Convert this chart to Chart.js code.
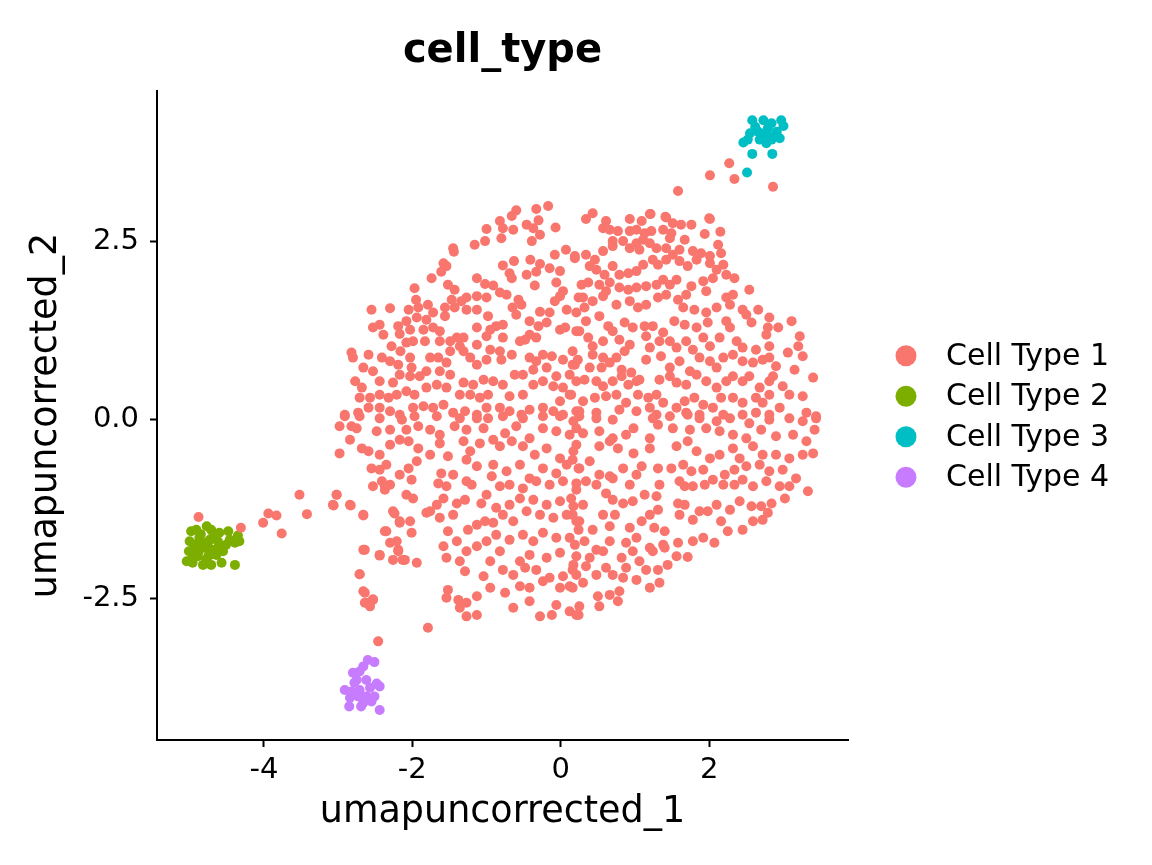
<!DOCTYPE html>
<html>
<head>
<meta charset="utf-8">
<script src="https://cdn.jsdelivr.net/npm/chart.js@4.4.1/dist/chart.umd.min.js"></script>
<style>
  html, body { margin: 0; padding: 0; background: #fff; }
  #wrap { width: 1152px; height: 865px; position: relative; }
</style>
</head>
<body>
<div id="wrap"><canvas id="myChart"></canvas></div>
<script>
// labels + colours (ggplot default hue palette)
const groupLabels = ['Cell Type 1', 'Cell Type 2', 'Cell Type 3', 'Cell Type 4'];
const groupColors = ['#F8766D', '#7CAE00', '#00BFC4', '#C77CFF'];

const xTitle = 'umapuncorrected_1';
const yTitle = 'umapuncorrected_2';
const plotTitle = 'cell_type';
const xRange = [-5.44, 3.87];
const yRange = [-4.48, 4.6];

// Cell Type 1
const type1UpperLeft = [
[-0.17,2.99],[-0.33,2.95],[-0.60,2.93],[-0.66,2.85],[-0.82,2.78],[-0.78,2.68],[-0.64,2.66],[-0.46,2.73],[-0.37,2.68],[-0.30,2.79],[-0.28,2.59],[-0.39,2.50],[-0.80,2.54],[-1.00,2.67],[-1.02,2.50],[-1.16,2.45],[-1.45,2.40],[-1.44,2.35],[-0.07,2.69],
[0.07,2.38],[-0.08,2.31],[0.19,2.26],[-0.41,2.24],[-0.28,2.18],[-0.63,2.22],[-0.78,2.16],[-0.69,2.05],[-0.66,1.98],[-0.46,2.03],[-0.33,2.07],[-0.35,1.88],[-0.15,2.12],[-0.01,2.08],[-0.06,1.92],[0.03,1.80],[-0.01,1.73],[-0.08,1.66],[0.08,1.54],[0.24,1.71],
[-1.58,2.19],[-1.54,2.15],[-1.61,2.07],[-1.74,1.98],[-1.52,1.89],[-1.43,1.82],[-1.13,1.98],[-1.02,1.90],[-0.91,1.88],[-0.82,1.78],[-0.73,1.75],[-0.57,1.68],[-0.65,1.57],[-0.60,1.47],[-0.53,1.61],[-1.97,1.84],[-1.95,1.68],
[-1.47,1.68],[-1.34,1.66],[-1.27,1.71],[-1.13,1.73],[-1.00,1.71],[-1.27,1.54],[-1.13,1.54],[-0.98,1.45],[-1.43,1.57],[-1.56,1.57],[-1.56,1.45],
[-2.55,1.54],[-2.30,1.56],[-2.05,1.54],[-1.92,1.57],[-1.79,1.61],[-1.72,1.50],[-1.81,1.40],[-1.94,1.43],[-2.08,1.38],[-2.19,1.31],[-2.44,1.33],[-2.53,1.29],[-2.39,1.19],[-2.17,1.20],[-2.03,1.26],[-1.85,1.26],[-1.72,1.29],[-1.63,1.24],[-1.63,1.10],[-1.83,1.10],[-1.99,1.10],[-2.08,1.08],
[-0.28,1.51],[-0.15,1.50],[-0.42,1.38],[-0.30,1.31],[-0.19,1.36],[-0.01,1.26],[0.06,1.29],[0.21,1.24],[-0.42,1.19],[-0.33,1.15],[-0.48,1.12],[-0.55,1.10],[-0.78,1.15],[-0.95,1.26],[-0.87,1.31],[-0.78,1.33],[-1.13,1.29],[-1.00,1.17],[-1.13,1.05],[-1.31,1.15],[-1.40,1.15],[-1.49,1.10],[-1.36,1.03],
[-2.82,0.94],[-2.80,0.87],[-2.59,0.91],[-2.66,0.73],[-2.53,0.68],[-2.41,0.87],[-2.28,1.03],[-2.30,0.82],[-2.16,0.96],[-2.03,0.87],[-2.19,0.77],[-2.01,0.73],[-1.76,0.87],[-1.65,0.87],[-1.49,0.96],[-1.54,0.80],[-1.49,0.63],[-1.63,0.68],[-1.81,0.68],[-1.90,0.61],[-2.03,0.61],[-2.17,0.63],[-2.26,0.52],[-2.44,0.54],
[-1.31,0.96],[-1.22,0.87],[-1.13,0.77],[-1.00,0.84],[-0.95,0.98],[-0.82,0.96],[-0.80,0.84],[-0.66,0.91],[-0.62,0.63],[-0.51,0.63],[-0.42,0.87],[-0.33,0.82],[-0.24,0.91],[-0.12,0.89],[0.03,0.84],[0.19,0.77],[-0.37,0.70],[-0.19,0.73],[-0.06,0.61],[0.12,0.63],[0.21,0.54],
[-2.77,0.54],[-2.68,0.45],[-2.71,0.31],[-2.57,0.31],[-2.44,0.35],[-2.32,0.31],[-2.21,0.35],[-2.08,0.40],[-1.97,0.35],[-1.81,0.45],[-1.67,0.49],[-1.54,0.45],[-1.31,0.52],[-1.18,0.49],[-1.04,0.56],[-0.91,0.54],[-0.78,0.49],[-0.98,0.35],[-1.09,0.31],[-1.22,0.35],[-1.36,0.35],[-0.69,0.33],[-0.51,0.35],[-0.37,0.49],[-0.24,0.54],[-0.10,0.47],[0.03,0.45],[0.12,0.35],[-0.01,0.26],
[-2.91,0.07],[-2.73,0.10],[-2.59,0.17],[-2.44,0.17],[-2.30,0.12],[-2.17,0.07],[-1.99,0.17],[-1.85,0.19],[-1.72,0.17],[-1.58,0.21],[-1.45,0.10],[-1.29,0.12],[-1.13,0.07],[-1.00,0.17],[-0.82,0.17],[-0.69,0.12],[-0.53,0.07],[-0.42,0.14],[-0.24,0.17],[-0.10,0.12],[0.03,0.07],[0.21,0.12]
];

const type1UpperRight = [
[1.58,3.20],[0.43,2.89],[0.34,2.81],[0.61,2.78],[0.57,2.68],[0.93,2.81],[1.09,2.78],[1.20,2.88],[1.42,2.83],[1.51,2.75],[1.62,2.73],[1.76,2.73],[2.01,2.81],[1.94,2.60],[2.15,2.63],[1.67,2.52],
[0.66,2.66],[0.77,2.64],[0.93,2.64],[1.02,2.66],[1.13,2.61],[1.22,2.64],[1.38,2.66],[1.49,2.61],[1.47,2.54],[0.70,2.50],[0.84,2.50],[1.02,2.47],[1.11,2.52],[1.20,2.47],[0.93,2.40],[1.06,2.38],[1.29,2.40],[1.42,2.40],[1.60,2.38],[1.78,2.36],[1.89,2.33],[2.01,2.29],[2.12,2.45],[2.16,2.33],
[0.19,2.29],[0.34,2.31],[0.46,2.24],[0.57,2.36],[0.70,2.43],[0.39,2.15],[0.48,2.10],[0.59,2.03],[0.70,2.15],[0.79,2.03],[0.91,2.05],[1.02,2.08],[1.11,2.17],[1.24,2.24],[1.31,2.17],[1.42,2.24],[1.51,2.31],[1.60,2.22],[1.71,2.15],[1.83,2.24],[2.01,2.19],[2.19,2.17],[2.23,2.03],[2.10,2.10],[2.34,1.98],
[0.28,1.89],[0.37,1.92],[0.52,1.89],[0.61,1.80],[0.66,1.92],[0.79,1.85],[0.91,1.82],[1.02,1.85],[1.15,1.87],[1.29,1.89],[1.38,1.96],[1.47,1.89],[1.56,1.96],[1.76,1.87],[1.92,1.94],[1.96,1.80],[2.05,1.98],[2.54,1.82],
[0.30,1.71],[0.32,1.57],[0.43,1.66],[0.57,1.73],[0.75,1.61],[0.93,1.66],[1.04,1.57],[1.15,1.61],[1.31,1.71],[1.42,1.75],[1.58,1.68],[1.69,1.75],[1.65,1.57],[1.80,1.54],[1.96,1.50],[2.10,1.57],[2.23,1.71],[2.32,1.75],[2.28,1.61],[2.45,1.54],[2.66,1.54],[2.50,1.47],
[0.21,1.50],[0.34,1.38],[0.52,1.45],[0.64,1.31],[0.70,1.24],[0.86,1.36],[0.97,1.29],[1.13,1.31],[1.24,1.31],[1.38,1.22],[1.53,1.38],[1.67,1.33],[1.83,1.29],[1.98,1.36],[2.23,1.38],[2.28,1.29],[2.57,1.36],[2.81,1.43],[2.79,1.29],[2.93,1.29],[3.11,1.38],[3.22,1.17],
[0.25,1.24],[0.37,1.15],[0.43,1.03],[0.57,1.10],[0.79,1.12],[0.93,1.05],[0.86,0.96],[0.75,0.87],[0.57,0.87],[0.43,0.91],[1.15,1.17],[1.20,1.01],[1.33,1.10],[1.47,1.10],[1.56,1.01],[1.69,1.10],[1.78,0.98],[1.92,1.15],[2.01,1.03],[2.14,1.15],[2.37,1.10],[2.45,1.01],[2.63,0.98],[2.81,1.03],[2.77,1.19],[3.06,0.94],[3.20,1.03],[3.26,0.89],
[0.16,0.96],[0.16,0.77],[0.23,0.84],[0.39,0.73],[0.55,0.73],[0.66,0.80],[0.82,0.70],[0.95,0.66],[1.06,0.56],[1.15,0.84],[1.35,0.89],[1.47,0.73],[1.60,0.82],[1.74,0.68],[1.87,0.87],[2.01,0.82],[2.10,0.73],[2.19,0.87],[2.32,0.91],[2.45,0.82],[2.59,0.80],[2.72,0.84],[2.81,0.87],[2.90,0.75],[3.15,0.70],[3.40,0.59],
[0.32,0.56],[0.48,0.54],[0.57,0.47],[0.70,0.54],[0.82,0.61],[0.91,0.49],[1.02,0.54],[1.33,0.56],[1.47,0.61],[1.56,0.52],[1.69,0.49],[1.83,0.63],[1.96,0.54],[2.10,0.45],[2.23,0.54],[2.32,0.61],[2.45,0.54],[2.54,0.61],[2.68,0.45],[2.81,0.54],[2.99,0.47],[3.08,0.35],[3.26,0.33],[2.86,0.61],
[0.14,0.35],[0.30,0.26],[0.46,0.31],[0.61,0.33],[0.75,0.35],[0.88,0.24],[1.04,0.35],[1.18,0.31],[1.29,0.35],[1.20,0.17],[1.38,0.24],[1.56,0.17],[1.67,0.26],[1.80,0.31],[1.92,0.21],[2.05,0.17],[2.16,0.31],[2.32,0.31],[2.45,0.24],[2.63,0.31],[2.72,0.24],[2.81,0.35],[2.95,0.17],[3.31,0.10],[3.44,0.05],
[0.25,0.12],[0.48,0.10],[0.79,0.14],[1.02,0.12],[1.29,0.07],[1.69,0.10],[1.87,0.07],[2.19,0.07],[2.45,0.07],[2.63,0.10],[2.81,0.07]
];

const type1LowerLeft = [
[-2.91,0.05],[-2.71,0.05],[-2.44,0.02],[-2.14,0.00],[-1.97,0.05],[-1.67,0.05],[-1.36,0.02],[-1.13,0.02],[-0.98,0.02],[-0.78,0.05],[-0.51,0.02],[-0.24,0.05],[-0.01,0.05],[0.17,-0.02],
[-2.98,-0.09],[-2.82,-0.09],[-2.75,-0.12],[-2.48,-0.16],[-2.30,-0.14],[-2.08,-0.14],[-1.92,-0.09],[-1.76,-0.14],[-1.63,-0.21],[-1.43,-0.09],[-1.27,-0.14],[-1.04,-0.12],[-0.91,-0.28],[-0.75,-0.19],[-0.60,-0.09],[-0.42,-0.26],[-0.24,-0.12],[-0.06,-0.16],[0.12,-0.21],
[-2.84,-0.28],[-2.68,-0.40],[-2.59,-0.44],[-2.44,-0.49],[-2.30,-0.35],[-2.17,-0.28],[-2.05,-0.30],[-1.92,-0.40],[-1.76,-0.49],[-1.63,-0.33],[-1.52,-0.51],[-1.31,-0.30],[-1.22,-0.44],[-1.09,-0.33],[-0.82,-0.37],[-0.66,-0.30],[-0.51,-0.37],[-0.35,-0.49],[-0.19,-0.40],[-0.01,-0.54],[0.17,-0.44],
[-2.98,-0.47],[-2.55,-0.68],[-2.44,-0.70],[-2.35,-0.63],[-2.17,-0.77],[-2.05,-0.68],[-1.94,-0.58],[-1.61,-0.75],[-1.45,-0.77],[-1.27,-0.56],[-1.13,-0.65],[-0.91,-0.63],[-0.73,-0.72],[-0.55,-0.63],[-0.42,-0.82],[-0.24,-0.68],[-0.06,-0.75],[0.08,-0.63],[0.24,-0.68],
[-2.53,-0.93],[-2.41,-0.86],[-2.30,-0.91],[-2.01,-0.84],[-1.65,-0.89],[-1.54,-0.93],[-1.27,-0.86],[-1.20,-0.91],[-0.93,-0.79],[-0.82,-0.93],[-0.69,-0.91],[-0.51,-0.96],[-0.33,-0.86],[-0.15,-0.91],[0.03,-0.86],[0.21,-0.98],
[-3.02,-1.05],[-3.07,-1.19],[-2.84,-1.19],[-2.66,-1.33],[-2.37,-0.98],[-2.08,-1.05],[-1.99,-1.10],[-1.81,-1.30],[-1.67,-1.19],[-1.58,-1.10],[-1.40,-1.17],[-1.29,-1.12],[-1.07,-1.17],[-1.00,-1.05],[-0.87,-1.23],[-0.69,-1.19],[-0.55,-1.10],[-0.37,-1.12],[-0.19,-1.19],[-0.01,-1.14],[0.17,-1.21],
[-2.26,-1.28],[-2.17,-1.42],[-2.03,-1.42],[-2.37,-1.56],[-2.01,-1.58],[-1.76,-1.28],[-1.63,-1.37],[-1.52,-1.56],[-1.45,-1.33],[-1.25,-1.54],[-1.13,-1.47],[-1.02,-1.42],[-0.91,-1.44],[-0.78,-1.33],[-0.64,-1.42],[-0.46,-1.28],[-0.28,-1.33],[-0.10,-1.37],[0.08,-1.33],[0.21,-1.42],
[-2.66,-1.82],[-2.44,-1.89],[-2.30,-1.72],[-2.21,-1.70],[-2.19,-1.82],[-2.26,-1.96],[-2.10,-1.96],[-1.94,-2.00],[-1.58,-1.77],[-1.40,-1.70],[-1.54,-1.93],[-1.36,-1.98],[-1.27,-1.84],[-1.13,-1.77],[-1.00,-1.70],[-0.87,-1.61],[-0.82,-1.84],[-0.69,-1.68],[-0.51,-1.61],[-0.37,-1.70],[-0.24,-1.58],[-0.06,-1.65],[0.12,-1.65],[0.24,-1.54],
[-2.71,-2.16],[-1.52,-2.38],[-1.29,-2.12],[-1.04,-2.19],[-0.95,-1.98],[-0.78,-2.10],[-0.64,-2.17],[-0.48,-2.07],[-0.33,-2.10],[-0.15,-2.21],[0.03,-2.19],[0.17,-2.03],[-0.42,-1.89],[-0.19,-1.93],[-0.01,-1.86],[-0.55,-1.98],
[-2.66,-2.40],[-2.62,-2.56],[-2.53,-2.52],[-1.54,-2.49],[-1.38,-2.52],[-1.27,-2.56],[-1.13,-2.47],[-0.95,-2.35],[-0.75,-2.42],[-0.55,-2.33],[-0.42,-2.35],[-0.24,-2.26],[-0.01,-2.35],[0.12,-2.33],[0.21,-2.17],
[-1.36,-2.63],[-1.27,-2.75],[-1.13,-2.73],[-0.64,-2.63],[-0.42,-2.54],[-0.28,-2.75],[-0.12,-2.73],[-0.06,-2.59],[0.12,-2.68],[0.24,-2.73],[-1.79,-2.91]
];

const type1LowerRight = [
[0.25,0.05],[0.48,0.02],[0.70,0.00],[0.98,-0.12],[1.24,0.02],[1.47,0.05],[1.71,0.07],[1.87,0.02],[2.10,-0.02],[2.28,0.02],[2.54,-0.05],[2.81,0.00],[3.08,0.02],[3.26,-0.02],[3.44,0.02],
[0.21,-0.12],[0.30,-0.19],[0.52,-0.16],[0.70,-0.26],[0.88,-0.21],[1.20,-0.26],[1.31,-0.07],[1.51,-0.12],[1.74,-0.14],[1.96,-0.12],[2.14,-0.16],[2.32,-0.21],[2.50,-0.26],[2.70,-0.14],[2.90,-0.23],[3.13,-0.21],[3.31,-0.30],[3.42,-0.14],
[0.21,-0.35],[0.52,-0.37],[0.66,-0.30],[0.77,-0.40],[0.98,-0.47],[1.20,-0.40],[1.56,-0.37],[1.71,-0.30],[1.83,-0.44],[2.01,-0.54],[2.14,-0.49],[2.32,-0.40],[2.41,-0.54],[2.59,-0.37],[2.72,-0.49],[2.90,-0.49],[3.08,-0.54],[3.26,-0.49],[3.40,-0.47],
[0.16,-0.56],[0.25,-0.68],[0.39,-0.58],[0.52,-0.77],[0.66,-0.79],[0.84,-0.68],[1.09,-0.65],[1.31,-0.68],[1.49,-0.68],[1.65,-0.63],[1.76,-0.72],[1.92,-0.70],[2.05,-0.84],[2.21,-0.77],[2.34,-0.70],[2.50,-0.65],[2.68,-0.63],[2.81,-0.72],[2.99,-0.70],[3.17,-0.82],[3.33,-1.00],
[0.21,-0.89],[0.34,-0.86],[0.48,-0.91],[0.70,-0.82],[0.93,-0.91],[1.02,-0.77],[1.33,-0.91],[1.60,-0.86],[1.67,-0.93],[1.78,-0.93],[1.94,-0.91],[2.19,-0.91],[2.34,-0.91],[2.45,-0.84],[2.59,-0.93],[2.77,-0.86],[2.95,-0.93],[3.08,-0.93],
[0.14,-1.10],[0.30,-1.19],[0.61,-1.03],[0.70,-1.12],[0.84,-1.17],[0.97,-1.14],[1.13,-1.05],[1.29,-1.07],[1.58,-1.17],[1.67,-1.19],[1.87,-1.28],[1.98,-1.28],[2.10,-1.19],[2.28,-1.26],[2.41,-1.14],[2.57,-1.21],[2.70,-1.21],[2.84,-1.17],[3.02,-1.10],
[0.16,-1.33],[0.25,-1.42],[0.43,-1.54],[0.57,-1.33],[0.66,-1.49],[0.73,-1.33],[0.93,-1.51],[1.09,-1.42],[1.20,-1.33],[1.31,-1.26],[1.26,-1.51],[1.40,-1.56],[1.60,-1.33],[1.78,-1.40],[2.16,-1.42],[2.25,-1.56],[2.45,-1.54],[2.59,-1.42],[2.72,-1.40],[2.79,-1.30],
[0.19,-1.75],[0.32,-1.70],[0.48,-1.82],[0.66,-1.70],[0.88,-1.72],[1.02,-1.65],[1.20,-1.79],[1.38,-1.75],[1.58,-1.72],[1.78,-1.70],[1.92,-1.65],[2.07,-1.72],
[0.21,-1.91],[0.39,-1.93],[0.57,-1.84],[0.82,-1.93],[0.97,-1.84],[1.06,-1.98],[1.24,-1.84],[1.40,-1.79],[1.56,-1.91],[1.71,-1.92],[0.88,-2.07],[0.70,-2.17],
[0.16,-2.10],[0.34,-2.05],[0.48,-2.17],[0.61,-2.07],[0.84,-2.21],[1.02,-2.24],[1.15,-2.10],[1.31,-2.10],[1.44,-2.03],[1.20,-2.35],[1.33,-2.28],
[0.16,-2.35],[0.30,-2.28],[0.50,-2.47],[0.66,-2.45],[0.79,-2.40],[0.77,-2.54],[0.52,-2.61],[0.25,-2.61],[0.21,-2.73]
];

// stray Cell Type 1 cells outside the main blob
const type1Strays = [
[-3.52,-1.05],[-3.42,-1.32],[-3.94,-1.31],[-3.83,-1.34],[-4.01,-1.44],[-3.76,-1.59],[-4.31,-1.51],[-4.88,-1.36],
[-3.02,-1.05],[-3.06,-1.20],[-2.83,-1.20],[-2.66,-1.34],[-2.64,-1.82],[-2.44,-1.90],[-2.71,-2.16],[-2.64,-2.42],[-2.53,-2.51],[-2.64,-2.56],[-2.57,-2.61],[-2.46,-3.10],
[-2.37,-0.93],[-2.24,-1.31],[-2.17,-1.44],[-2.35,-1.56],[-2.19,-1.84],[-2.13,-1.96],
[2.27,3.59],[2.01,3.42],[2.34,3.37],[2.86,3.26],[1.21,2.88],[1.41,2.84],[2.00,2.82]
];

const type2Points = [
[-4.98,-1.56],[-4.91,-1.54],[-4.77,-1.49],[-4.71,-1.54],[-4.60,-1.58],[-4.48,-1.56],[-4.35,-1.62],[-4.33,-1.70],
[-5.00,-1.70],[-4.87,-1.65],[-4.73,-1.68],[-4.62,-1.70],[-4.51,-1.75],[-4.39,-1.72],[-5.01,-1.84],[-4.91,-1.82],
[-4.80,-1.79],[-4.66,-1.82],[-4.55,-1.84],[-5.04,-1.98],[-4.96,-2.00],[-4.82,-2.03],[-4.71,-2.03],[-4.57,-2.00],
[-4.39,-2.03],[-4.89,-1.91],[-4.75,-1.91],[-4.64,-1.89],[-4.96,-1.91],[-4.46,-1.68],[-4.82,-1.72],
[-4.85,-1.60],[-4.68,-1.62],[-4.94,-1.75],[-4.70,-1.88],[-4.78,-1.96],[-4.60,-1.76],[-4.88,-1.85],[-4.73,-1.80]
];

const type3Points = [
[2.58,4.19],[2.73,4.19],[2.84,4.15],[2.97,4.19],[3.00,4.11],[2.55,4.01],[2.66,4.03],[2.75,4.01],[2.82,3.96],
[2.91,4.03],[2.95,3.94],[2.46,3.88],[2.52,3.92],[2.68,3.92],[2.77,3.87],[2.84,3.92],[2.58,3.72],[2.85,3.72],
[2.51,3.46],[2.62,4.10],[2.79,4.08],[2.70,3.98]
];

const type4Points = [
[-2.60,-3.36],[-2.51,-3.39],[-2.66,-3.45],[-2.80,-3.54],[-2.71,-3.52],[-2.62,-3.64],[-2.75,-3.64],[-2.48,-3.69],
[-2.44,-3.73],[-2.91,-3.78],[-2.82,-3.80],[-2.71,-3.78],[-2.57,-3.75],[-2.84,-3.89],[-2.73,-3.87],[-2.62,-3.87],
[-2.51,-3.87],[-2.66,-3.96],[-2.55,-3.94],[-2.85,-4.01],[-2.69,-4.01],[-2.44,-4.06],[-2.78,-3.68]
];

const type1Points = [].concat(type1UpperLeft, type1UpperRight, type1LowerLeft, type1LowerRight, type1Strays);
const groupPoints = [type1Points, type2Points, type3Points, type4Points];

Chart.defaults.font.family = '"DejaVu Sans", sans-serif';
Chart.defaults.color = '#000';

// ggplot style legend to the right of the panel
const sideLegend = {
    id: 'sideLegend',
    afterDraw(chart) {
        const { ctx, chartArea } = chart;
        const mid = (chartArea.top + chartArea.bottom) / 2 + 1;
        ctx.save();
        ctx.font = '30px "DejaVu Sans", sans-serif';
        ctx.textBaseline = 'middle';
        ctx.textAlign = 'left';
        groupLabels.forEach((label, i) => {
            const y = mid + (i - 1.5) * 40.5;
            ctx.fillStyle = groupColors[i];
            ctx.beginPath();
            ctx.arc(chartArea.right + 58, y, 10.5, 0, Math.PI * 2);
            ctx.fill();
            ctx.fillStyle = '#000';
            ctx.fillText(label, chartArea.right + 98, y + 1);
        });
        ctx.restore();
    }
};

const ctx = document.getElementById('myChart');
new Chart(ctx, {
    type: 'scatter',
    data: {
        datasets: groupPoints.map((pts, i) => ({
            label: groupLabels[i],
            data: pts.map(p => ({ x: p[0], y: p[1] })),
            backgroundColor: groupColors[i],
            pointRadius: 5,
            pointBorderWidth: 0,
            pointHoverRadius: 5
        }))
    },
    options: {
        responsive: true,
        maintainAspectRatio: false,
        devicePixelRatio: 1,
        animation: false,
        events: [],
        layout: { padding: { left: 0, right: 304, top: 0, bottom: 0 } },
        plugins: {
            legend: { display: false },
            tooltip: { enabled: false },
            title: {
                display: true,
                text: plotTitle,
                fullSize: false,
                color: '#000',
                font: { size: 40, weight: 'bold' },
                padding: { top: 28, bottom: 15 }
            }
        },
        scales: {
            x: {
                type: 'linear',
                min: xRange[0],
                max: xRange[1],
                afterFit(scale) { scale.height = 125; },
                border: { display: true, color: '#000', width: 2 },
                grid: { display: true, drawOnChartArea: false, drawTicks: true, tickLength: 7, tickWidth: 2, tickColor: '#000' },
                ticks: {
                    stepSize: 2,
                    includeBounds: false,
                    color: '#000',
                    padding: 6,
                    maxRotation: 0,
                    font: { size: 29 },
                    callback: v => String(v)
                },
                title: {
                    display: true,
                    text: xTitle,
                    color: '#000',
                    font: { size: 36.5 },
                    padding: { top: 0, bottom: 31 }
                }
            },
            y: {
                type: 'linear',
                min: yRange[0],
                max: yRange[1],
                afterFit(scale) { scale.width = 157; },
                border: { display: true, color: '#000', width: 2 },
                grid: { display: true, drawOnChartArea: false, drawTicks: true, tickLength: 7, tickWidth: 2, tickColor: '#000' },
                ticks: {
                    stepSize: 2.5,
                    includeBounds: false,
                    color: '#000',
                    padding: 11,
                    font: { size: 29 },
                    callback: v => v.toFixed(1)
                },
                title: {
                    display: true,
                    text: yTitle,
                    color: '#000',
                    font: { size: 36.5 },
                    padding: { top: 25, bottom: 0 }
                }
            }
        }
    },
    plugins: [sideLegend]
});
</script>
</body>
</html>
